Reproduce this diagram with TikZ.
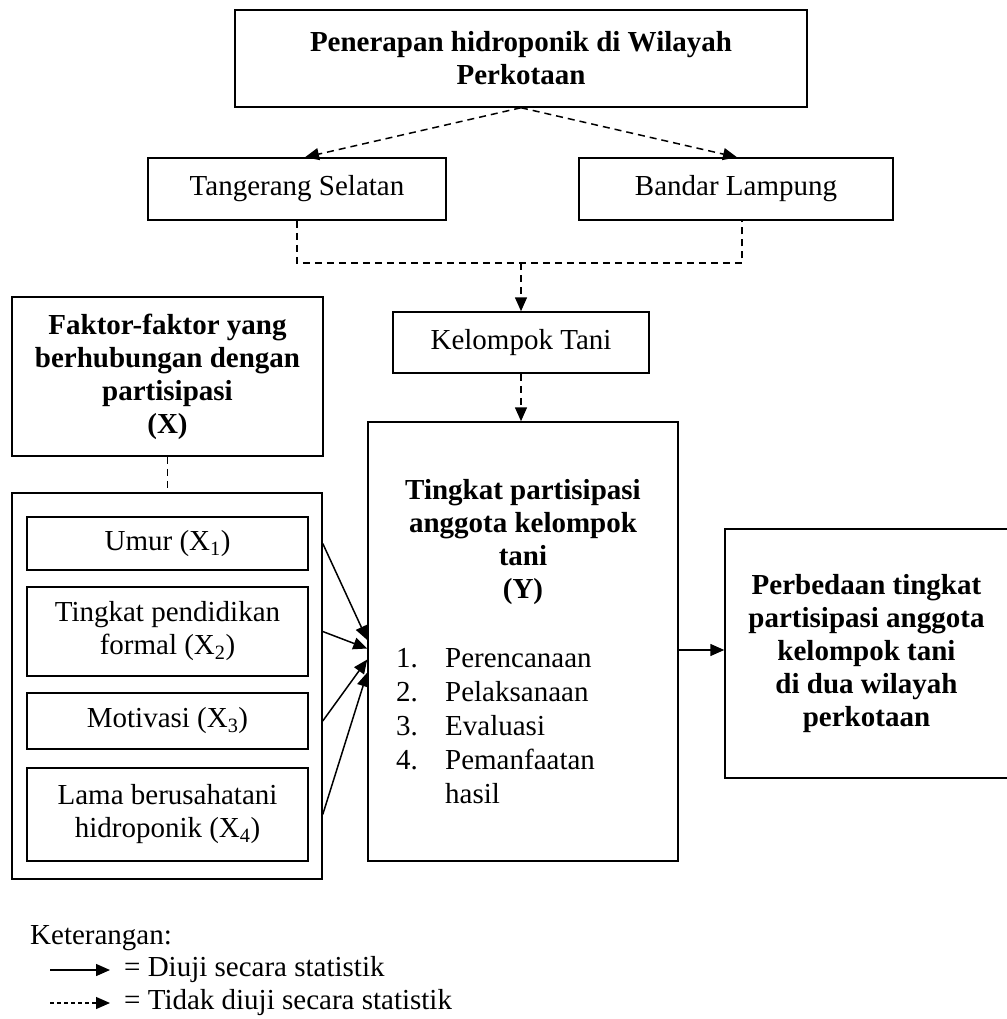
\documentclass[tikz,border=0pt]{standalone}
\usepackage{fontspec}
\setmainfont{Liberation Serif}
\usetikzlibrary{arrows.meta,calc}
\tikzset{
  box/.style={draw, line width=1.5pt, inner sep=0pt, align=center, font=\fontsize{29}{33}\selectfont},
  bbox/.style={box, font=\fontsize{29}{33}\selectfont\bfseries},
  txt/.style={inner sep=0pt, font=\fontsize{29}{33}\selectfont},
  tip/.style={-{Triangle[length=14pt,width=12pt]}},
  solidarrow/.style={tip, line width=1.5pt},
  dasharrow/.style={tip, line width=1.5pt, dash pattern=on 7pt off 5pt},
  dashline/.style={line width=1.5pt, dash pattern=on 7pt off 5pt},
}
\begin{document}
\begin{tikzpicture}[x=1pt,y=-1pt]
\useasboundingbox (0,0) rectangle (1006,1019);
% boxes
\node[bbox, minimum width=572pt, minimum height=97pt] (top) at (521,58.5) {Penerapan hidroponik di Wilayah\\Perkotaan};
\node[box, minimum width=298pt, minimum height=62pt] (tang) at (297,189) {Tangerang Selatan};
\node[box, minimum width=314pt, minimum height=62pt] (bandar) at (736,189) {Bandar Lampung};
\node[box, minimum width=256pt, minimum height=61pt] (kel) at (521,342.5) {Kelompok Tani};
\node[bbox, minimum width=311pt, minimum height=159pt] (faktor) at (167.5,376.5) {Faktor-faktor yang\\berhubungan dengan\\partisipasi\\(X)};
\node[box, minimum width=310pt, minimum height=386pt] (group) at (167,686) {};
\node[box, minimum width=281pt, minimum height=53pt] (umur) at (167.5,543.5) {Umur (X\textsubscript{1})};
\node[box, minimum width=281pt, minimum height=89pt] (pend) at (167.5,631.5) {Tingkat pendidikan\\formal (X\textsubscript{2})};
\node[box, minimum width=281pt, minimum height=56pt] (motiv) at (167.5,721) {Motivasi (X\textsubscript{3})};
\node[box, minimum width=281pt, minimum height=93pt] (lama) at (167.5,814.5) {Lama berusahatani\\hidroponik (X\textsubscript{4})};
\node[box, minimum width=310pt, minimum height=439pt] (ting) at (523,641.5) {};
\node[txt, align=center, font=\fontsize{29}{33}\selectfont\bfseries] (tingtitle) at (523,542) {Tingkat partisipasi\\anggota kelompok\\tani\\(Y)};
\node[txt, anchor=north west, font=\fontsize{29}{34}\selectfont] (tinglist) at (396,643) {%
\begin{tabular}{@{}p{49pt}@{}l@{}}
1. & Perencanaan\\
2. & Pelaksanaan\\
3. & Evaluasi\\
4. & Pemanfaatan\\
   & hasil
\end{tabular}};
\node[bbox, minimum width=283pt, minimum height=249pt] (perb) at (866.5,653.5) {Perbedaan tingkat\\partisipasi anggota\\kelompok tani\\di dua wilayah\\perkotaan};
% dashed connectors
\draw[dasharrow] (top.south) -- ($(tang.north)+(8,0)$);
\draw[dasharrow] (top.south) -- ($(bandar.north)+(1,0)$);
\coordinate (junc) at (521,263);
\draw[dashline] (tang.south) -- (tang.south |- junc) -- ($(bandar.south |- junc)+(6,0)$) -- ($(bandar.south)+(6,0)$);
\draw[dasharrow] (junc) -- (kel.north);
\draw[dasharrow] (kel.south) -- (kel.south |- ting.north);
\draw[dashline] (faktor.south) -- (faktor.south |- group.north);
% solid arrows
\draw[solidarrow] (group.east |- umur.center) -- ($(ting.west)+(0,-1.5)$);
\draw[solidarrow] (group.east |- pend.center) -- ($(ting.west)+(0,7)$);
\draw[solidarrow] (group.east |- motiv.center) -- ($(ting.west)+(0,18)$);
\draw[solidarrow] (group.east |- lama.center) -- ($(ting.west)+(0,31)$);
\coordinate (yarr) at (700,650);
\draw[solidarrow] (ting.east |- yarr) -- (perb.west |- yarr);
% legend
\node[txt, anchor=west] (ket) at (30,938) {Keterangan:};
\coordinate (l1a) at (50,970);
\coordinate (l1b) at (110,970);
\coordinate (l2a) at (50,1003);
\coordinate (l2b) at (110,1003);
\draw[solidarrow] (l1a) -- (l1b);
\draw[tip, line width=1.2pt, dash pattern=on 4pt off 3pt] (l2a) -- (l2b);
\node[txt, anchor=west] (leg1) at (124,970) {= Diuji secara statistik};
\node[txt, anchor=west] (leg2) at (124,1003) {= Tidak diuji secara statistik};
\end{tikzpicture}
\end{document}
